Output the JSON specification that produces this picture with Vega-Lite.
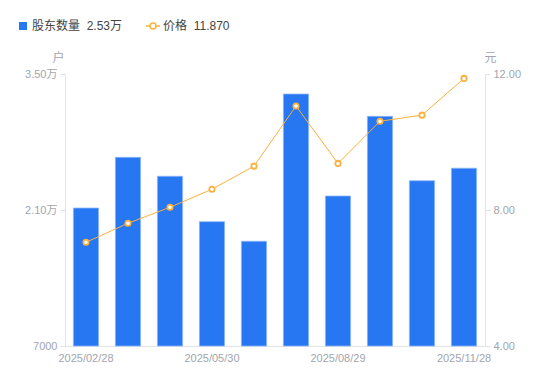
{
  "$schema": "https://vega.github.io/schema/vega-lite/v6.json",
  "autosize": "none",
  "width": 420,
  "height": 272,
  "padding": {"left": 65, "top": 74, "right": 65, "bottom": 35},
  "config": {
    "view": {"stroke": null},
    "font": "Liberation Sans, Noto Sans CJK SC, sans-serif",
    "axis": {"labelFont": "Liberation Sans, Noto Sans CJK SC", "titleFont": "Noto Sans CJK SC"},
    "legend": {"labelFont": "Liberation Sans, Noto Sans CJK SC", "labelFontSize": 12, "labelColor": "#444", "padding": 0}
  },
  "data": {
    "values": [
      {"date": "2025/02/28", "holders": 21200, "price": 7.05},
      {"date": "2025/03/31", "holders": 26420, "price": 7.61},
      {"date": "2025/04/30", "holders": 24470, "price": 8.08},
      {"date": "2025/05/30", "holders": 19800, "price": 8.61},
      {"date": "2025/06/30", "holders": 17780, "price": 9.29},
      {"date": "2025/07/31", "holders": 32940, "price": 11.06},
      {"date": "2025/08/29", "holders": 22440, "price": 9.37},
      {"date": "2025/09/30", "holders": 30640, "price": 10.61},
      {"date": "2025/10/31", "holders": 24010, "price": 10.79},
      {"date": "2025/11/28", "holders": 25300, "price": 11.87}
    ]
  },
  "encoding": {
    "x": {
      "field": "date", "type": "ordinal", "sort": null,
      "scale": {"paddingInner": 0.4, "paddingOuter": 0.2},
      "axis": {
        "title": null,
        "values": ["2025/02/28", "2025/05/30", "2025/08/29", "2025/11/28"],
        "labelAngle": 0,
        "labelColor": "#A2A5AE",
        "labelFontSize": 11,
        "labelPadding": 6,
        "ticks": false,
        "domainColor": "#E3E3E6",
        "grid": false
      }
    }
  },
  "layer": [
    {
      "mark": {"type": "bar", "stroke": "#8DB6F8", "strokeWidth": 0.8},
      "encoding": {
        "y": {
          "field": "holders", "type": "quantitative",
          "scale": {"domain": [7000, 35000], "nice": false, "zero": false},
          "axis": {
            "orient": "left",
            "values": [7000, 21000, 35000],
            "labelExpr": "datum.value >= 10000 ? format(datum.value / 10000, '.2f') + '万' : format(datum.value, 'd')",
            "labelColor": "#A2A5AE",
            "labelFontSize": 11,
            "labelPadding": 3,
            "tickSize": 5,
            "tickColor": "#E3E3E6",
            "domainColor": "#E3E3E6",
            "grid": false,
            "title": "户",
            "titleAngle": 0,
            "titleColor": "#A2A5AE",
            "titleFontSize": 12,
            "titleFontWeight": "normal",
            "titleAlign": "center",
            "titleBaseline": "middle",
            "titleX": -7,
            "titleY": -17
          }
        },
        "y2": {"datum": 7000},
        "color": {
          "datum": "股东数量", "type": "nominal",
          "scale": {"range": ["#2777F2"]},
          "legend": {
            "orient": "none",
            "legendX": -48,
            "legendY": -54,
            "title": null,
            "symbolType": "square",
            "symbolSize": 64,
            "symbolOpacity": 1,
            "symbolStrokeColor": "#2777F2",
            "symbolStrokeWidth": 0,
            "labelOffset": 3,
            "labelExpr": "'股东数量\u00a0\u00a02.53万'"
          }
        }
      }
    },
    {
      "layer": [
        {
          "mark": {"type": "line", "color": "#FBB13C", "strokeWidth": 1},
          "encoding": {}
        },
        {
          "mark": {"type": "point", "shape": "circle", "filled": true, "fill": "#ffffff", "strokeWidth": 1.8, "size": 28, "opacity": 1},
          "encoding": {
            "stroke": {
              "datum": "价格", "type": "nominal",
              "scale": {"range": ["#FBB13C"]},
              "legend": {
                "orient": "none",
                "legendX": 82,
                "legendY": -54,
                "title": null,
                "symbolType": "M-1.75,0H-0.75M0.75,0H1.75M-0.75,0A0.75,0.75 0 1,0 0.75,0A0.75,0.75 0 1,0 -0.75,0",
                "symbolSize": 64,
                "symbolFillColor": "#ffffff",
                "symbolStrokeWidth": 1.5,
                "symbolOpacity": 1,
                "labelOffset": 4,
                "labelExpr": "'价格\u00a0\u00a011.870'"
              }
            }
          }
        }
      ],
      "encoding": {
        "y": {
          "field": "price", "type": "quantitative",
          "scale": {"domain": [4, 12], "nice": false, "zero": false},
          "axis": {
            "orient": "right",
            "values": [4, 8, 12],
            "format": ".2f",
            "labelColor": "#A2A5AE",
            "labelFontSize": 11,
            "labelPadding": 3,
            "tickSize": 5,
            "tickColor": "#E3E3E6",
            "domainColor": "#E3E3E6",
            "grid": false,
            "title": "元",
            "titleAngle": 0,
            "titleColor": "#A2A5AE",
            "titleFontSize": 12,
            "titleFontWeight": "normal",
            "titleAlign": "center",
            "titleBaseline": "middle",
            "titleX": 5,
            "titleY": -17
          }
        }
      }
    }
  ],
  "resolve": {"scale": {"y": "independent"}}
}
